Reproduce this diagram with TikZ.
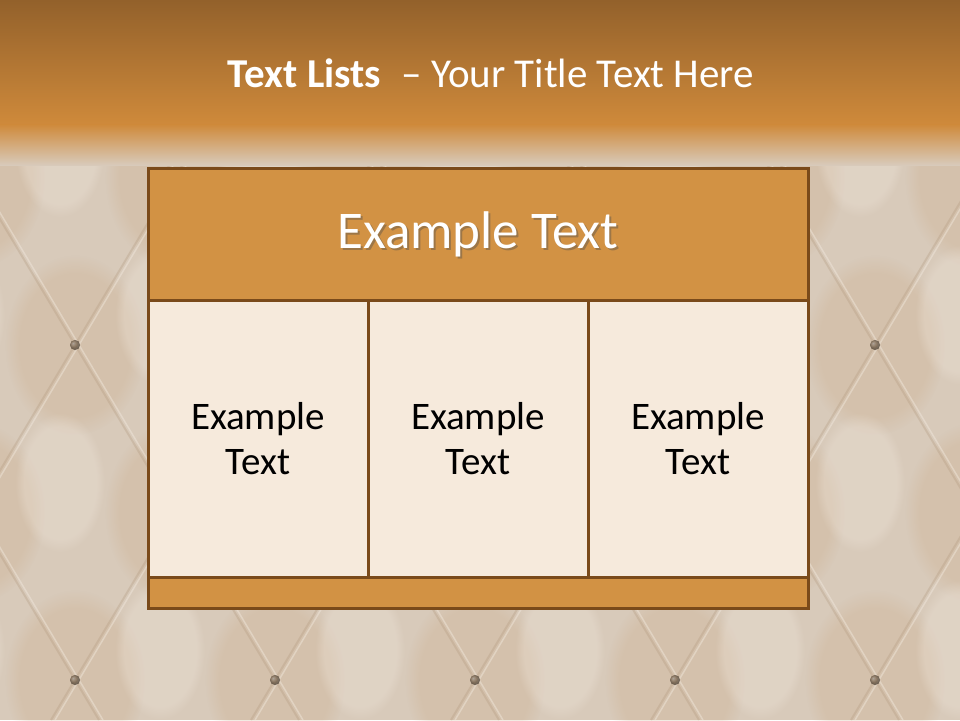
\documentclass[tikz,border=0pt]{standalone}
\usepackage{fontspec}
\setmainfont{Carlito}
\usetikzlibrary{fadings}
\definecolor{bgbase}{HTML}{D8CABA}
\definecolor{bandtop}{HTML}{93612B}
\definecolor{bandbot}{HTML}{CF8A3B}
\definecolor{hdrfill}{HTML}{D29244}
\definecolor{cellfill}{HTML}{F6EADC}
\definecolor{edge}{HTML}{7A4A1A}
\definecolor{seam}{HTML}{B0977C}
\definecolor{seamhi}{HTML}{F2E9DE}
\definecolor{warm}{HTML}{C9A57E}
\tikzset{
  boxpart/.style={draw=edge, line width=3pt, rectangle, inner sep=0pt},
  hdrbox/.style={boxpart, fill=hdrfill, minimum width=660pt, minimum height=132pt},
  hdrfont/.style={font=\fontsize{53}{60}\selectfont, text height=40pt, text depth=12pt, inner sep=0pt},
  cellbox/.style={boxpart, fill=cellfill, minimum width=220pt, minimum height=277pt,
    align=center, font=\fontsize{39}{45}\selectfont},
  stripbox/.style={boxpart, fill=hdrfill, minimum width=660pt, minimum height=31pt},
  seamline/.style={draw=seam, line width=2pt, opacity=0.3},
  seamlight/.style={draw=seamhi, line width=1.5pt, opacity=0.45},
  puff/.style={fill=seamhi, path fading=circle with fuzzy edge 20 percent, opacity=0.3},
  shadowpatch/.style={fill=warm, path fading=circle with fuzzy edge 20 percent, opacity=0.22},
  titletext/.style={text=white, font=\fontsize{41}{48}\selectfont, inner sep=0pt, anchor=base}
}
\begin{document}
\begin{tikzpicture}[x=1pt,y=-1pt]
\useasboundingbox (0,0) rectangle (960,720);
% background
\fill[bgbase] (0,0) rectangle (960,720);
\begin{scope}
\clip (0,0) rectangle (960,720);
% warm patches near the buttons and puffs in the diamonds
\foreach \i in {-1,...,5}{
  \foreach \yy in {345,680}{
    \fill[shadowpatch] (75+200*\i,\yy) ellipse (70pt and 90pt);
  }
  \foreach \yy in {177.5,512.5}{
    \fill[shadowpatch] (175+200*\i,\yy) ellipse (70pt and 90pt);
  }
}
\foreach \i in {-1,...,5}{
  \foreach \yy in {345,680,10}{
    \fill[puff] (175+200*\i-15,\yy-30) ellipse (45pt and 70pt);
  }
  \foreach \yy in {177.5,512.5}{
    \fill[puff] (75+200*\i-15,\yy-30) ellipse (45pt and 70pt);
  }
}
\foreach \i in {-3,...,8}{
  \draw[seamline] (75+200*\i-206,0) -- (75+200*\i+224,720);
  \draw[seamline] (75+200*\i+206,0) -- (75+200*\i-224,720);
  \draw[seamlight] (75+200*\i-206+4,0) -- (75+200*\i+224+4,720);
  \draw[seamlight] (75+200*\i+206+4,0) -- (75+200*\i-224+4,720);
}
\foreach \i in {-1,...,5}{
  \foreach \yy in {345,680}{
    \fill[ball color=warm, opacity=0.45] (75+200*\i,\yy) circle (5pt);
  }
  \foreach \yy in {177.5,512.5}{
    \fill[ball color=warm, opacity=0.45] (175+200*\i,\yy) circle (5pt);
  }
}
\end{scope}
% top band
\shade[top color=bandtop, bottom color=bandbot] (0,0) rectangle (960,125);
\shade[top color=bandbot, bottom color=bgbase] (0,124.5) rectangle (960,165);
% title
\node[titletext] (title) at (491,87) {\textbf{Text Lists}\hspace{0.5em}– Your Title Text Here};
% table
\node[hdrbox] (hdr) at (478,234) {};
\node[hdrfont, text=black!70, opacity=0.4] (hdrshadow) at (480,236) {Example Text};
\node[hdrfont, text=white] (hdrtext) at (hdr.center) {Example Text};
\node[cellbox] (c1) at (258,438.5) {Example\\Text};
\node[cellbox] (c2) at (478,438.5) {Example\\Text};
\node[cellbox] (c3) at (698,438.5) {Example\\Text};
\node[stripbox] (strip) at (478,592.5) {};
\end{tikzpicture}
\end{document}
